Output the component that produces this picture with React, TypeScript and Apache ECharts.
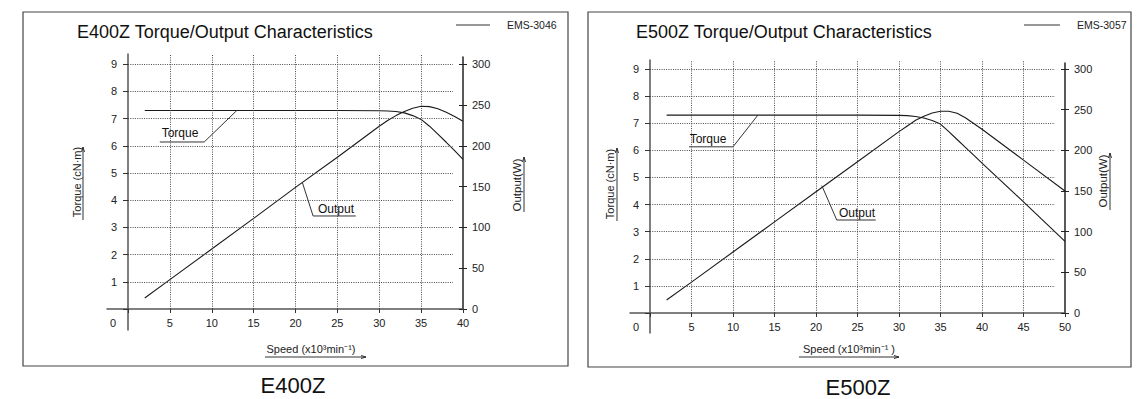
import React, { useEffect, useRef } from "react";
import * as echarts from "echarts";

// ---------------- data ----------------
const e400Speed = [2, 5, 10, 15, 20, 25, 30, 31, 32, 33, 34, 35, 36, 37, 38, 39, 40];
const e400Torque = [7.3, 7.3, 7.3, 7.3, 7.3, 7.3, 7.29, 7.28, 7.26, 7.21, 7.11, 6.97, 6.72, 6.43, 6.13, 5.82, 5.5];
const e400Output = [13.5, 36, 73.5, 111, 149, 186, 224, 231, 237, 242, 246, 248.5, 248, 245.5, 241, 236, 230];

const e500Speed = [2, 5, 10, 15, 20, 25, 30, 31, 32, 33, 34, 35, 36, 37, 38, 39, 40, 45, 50];
const e500Torque = [7.3, 7.3, 7.3, 7.3, 7.3, 7.3, 7.29, 7.28, 7.25, 7.19, 7.1, 6.97, 6.69, 6.4, 6.11, 5.82, 5.53, 4.1, 2.64];
const e500Output = [16, 38, 75, 112, 149, 186, 223, 230, 237, 242, 246, 248, 248, 245.5, 240, 233, 226, 188, 150];

// tick values
const torqueTicks = [1, 2, 3, 4, 5, 6, 7, 8, 9];
const e400GridSpeeds = [5, 10, 15, 20, 25, 30, 35];
const e500GridSpeeds = [5, 10, 15, 20, 25, 30, 35, 40, 45];

// annotation leader lines (speed, torque)
const e400TorqueLeader = [[3.8, 6.14], [9.1, 6.14], [13.0, 7.3]];
const e400OutputLeader = [[20.8, 4.67], [22.1, 3.42], [27.2, 3.42]];
const e500TorqueLeader = [[4.7, 6.13], [10.0, 6.13], [13.0, 7.3]];
const e500OutputLeader = [[20.7, 4.7], [22.5, 3.43], [27.2, 3.43]];

const FONT = '"Liberation Sans", Arial, Helvetica, sans-serif';
const INK = "#1a1a1a";

const specs = [
  {
    title: "E400Z Torque/Output Characteristics",
    legend: "EMS-3046",
    caption: "E400Z",
    speedName: "Speed (x10³min⁻¹)",
    speed: e400Speed,
    torque: e400Torque,
    output: e400Output,
    gridSpeeds: e400GridSpeeds,
    torqueLeader: e400TorqueLeader,
    outputLeader: e400OutputLeader,
    xMax: 40,
    box: [23, 12, 545, 354],
    originX: 128,
    originY: 309,
    pxX: 8.375,
    pxY: 27.2,
    axisLeftEnd: 107,
    axisBottomEnd: 330,
    axisTopEnd: 54,
    rightAxisTop: 57,
    hGridEnd: 38.8,
    titlePos: [77, 32],
    legendLine: [456, 490, 25],
    legendTextX: 507,
    zeroPos: [113, 323],
    torqueName: [77, 182],
    torqueArrow: [83, 220, 147],
    outputName: [517, 185],
    outputArrow: [524, 212, 157],
    speedNamePos: [311, 349],
    speedArrow: [265, 366, 357],
    torqueLabel: [180, 133],
    outputLabel: [336, 209],
    captionPos: [293, 385],
  },
  {
    title: "E500Z Torque/Output Characteristics",
    legend: "EMS-3057",
    caption: "E500Z",
    speedName: "Speed (x10³min⁻¹ )",
    speed: e500Speed,
    torque: e500Torque,
    output: e500Output,
    gridSpeeds: e500GridSpeeds,
    torqueLeader: e500TorqueLeader,
    outputLeader: e500OutputLeader,
    xMax: 50,
    box: [588, 12, 543, 355],
    originX: 650,
    originY: 313,
    pxX: 8.3,
    pxY: 27.11,
    axisLeftEnd: 630,
    axisBottomEnd: 333,
    axisTopEnd: 60,
    rightAxisTop: 63,
    hGridEnd: 48.8,
    titlePos: [636, 32],
    legendLine: [1024, 1060, 25],
    legendTextX: 1077,
    zeroPos: [636, 327],
    torqueName: [610, 184],
    torqueArrow: [617, 221, 148],
    outputName: [1103, 181],
    outputArrow: [1110, 210, 153],
    speedNamePos: [849, 349],
    speedArrow: [799, 899, 357],
    torqueLabel: [708, 139],
    outputLabel: [857, 213],
    captionPos: [858, 387],
  },
];

function zip(a: number[], b: number[]) {
  return a.map((v, i) => [v, b[i]]);
}

function buildOption() {
  const grids: any[] = [];
  const xAxes: any[] = [];
  const yAxes: any[] = [];
  const series: any[] = [];
  const graphics: any[] = [];

  const labelStyle = { fontSize: 11, color: "#222", fontFamily: FONT };

  specs.forEach((s) => {
    const gA = grids.length;
    const gridW = s.xMax * s.pxX;
    const gridH = 9 * s.pxY;
    grids.push({ left: s.originX, top: s.originY - gridH, width: gridW, height: gridH });
    grids.push({
      left: s.axisLeftEnd,
      top: s.axisTopEnd,
      width: s.originX + gridW - s.axisLeftEnd,
      height: s.axisBottomEnd - s.axisTopEnd,
    });
    grids.push({ left: s.originX, top: s.rightAxisTop, width: gridW, height: s.originY - s.rightAxisTop });

    const xA = xAxes.length;
    xAxes.push({
      gridIndex: gA,
      type: "value",
      min: 0,
      max: s.xMax,
      interval: 5,
      position: "bottom",
      axisLine: { show: false, onZero: false },
      axisTick: { show: true, length: 4, lineStyle: { color: "#333", width: 1 } },
      axisLabel: { ...labelStyle, margin: 8, formatter: (v: number) => (v === 0 ? "" : String(v)) },
      splitLine: { show: false },
    });
    const bMinX = -(s.originX - s.axisLeftEnd) / s.pxX;
    xAxes.push({
      gridIndex: gA + 1,
      type: "value",
      min: bMinX,
      max: s.xMax,
      axisLine: { show: true, onZero: true, lineStyle: { color: "#555", width: 1.5 } },
      axisTick: { show: false },
      axisLabel: { show: false },
      splitLine: { show: false },
    });
    xAxes.push({ gridIndex: gA + 2, type: "value", min: 0, max: 1, show: false, axisLine: { onZero: false } });

    const yA = yAxes.length;
    yAxes.push({
      gridIndex: gA,
      type: "value",
      min: 0,
      max: 9,
      interval: 1,
      position: "left",
      axisLine: { show: false, onZero: false },
      axisTick: { show: true, length: 5, lineStyle: { color: "#333", width: 1 } },
      axisLabel: { ...labelStyle, margin: 11, formatter: (v: number) => (v === 0 ? "" : String(v)) },
      splitLine: { show: false },
    });
    yAxes.push({
      gridIndex: gA,
      type: "value",
      min: 0,
      max: 300,
      interval: 50,
      position: "right",
      axisLine: { show: false, onZero: false },
      axisTick: { show: true, length: 4, lineStyle: { color: "#222", width: 1 } },
      axisLabel: { ...labelStyle, margin: 9 },
      splitLine: { show: false },
    });
    yAxes.push({
      gridIndex: gA,
      type: "value",
      min: 0,
      max: 300,
      interval: 50,
      position: "right",
      axisLine: { show: false, onZero: false },
      axisTick: { show: true, inside: true, length: 4, lineStyle: { color: "#222", width: 1 } },
      axisLabel: { show: false },
      splitLine: { show: false },
    });
    const bMinY = -(s.axisBottomEnd - s.originY) / s.pxY;
    const bMaxY = (s.originY - s.axisTopEnd) / s.pxY;
    yAxes.push({
      gridIndex: gA + 1,
      type: "value",
      min: bMinY,
      max: bMaxY,
      axisLine: { show: true, onZero: true, lineStyle: { color: "#555", width: 1.5 } },
      axisTick: { show: false },
      axisLabel: { show: false },
      splitLine: { show: false },
    });
    yAxes.push({
      gridIndex: gA + 2,
      type: "value",
      min: 0,
      max: 1,
      position: "right",
      axisLine: { show: true, onZero: false, lineStyle: { color: "#222", width: 1.5 } },
      axisTick: { show: false },
      axisLabel: { show: false },
      splitLine: { show: false },
    });

    const curveStyle = { color: INK, width: 1.1 };
    series.push({
      type: "line",
      name: s.legend,
      xAxisIndex: xA,
      yAxisIndex: yA,
      data: zip(s.speed, s.torque),
      symbol: "none",
      silent: true,
      lineStyle: curveStyle,
    });
    series.push({
      type: "line",
      name: s.legend,
      xAxisIndex: xA,
      yAxisIndex: yA + 1,
      data: zip(s.speed, s.output),
      symbol: "none",
      silent: true,
      lineStyle: curveStyle,
    });

    const vTop = bMaxY * 0.999;
    const gridLines: any[] = [];
    s.gridSpeeds.forEach((v) => gridLines.push([{ coord: [v, 0] }, { coord: [v, vTop] }]));
    torqueTicks.forEach((t) => gridLines.push([{ coord: [0, t] }, { coord: [s.hGridEnd, t] }]));
    series.push({
      type: "line",
      xAxisIndex: xA + 1,
      yAxisIndex: yA + 3,
      data: [],
      symbol: "none",
      silent: true,
      markLine: {
        silent: true,
        symbol: ["none", "none"],
        label: { show: false },
        lineStyle: { type: [1, 1.3], color: "#4a4a4a", width: 1 },
        data: gridLines,
      },
    });

    [s.torqueLeader, s.outputLeader].forEach((pts) =>
      series.push({
        type: "line",
        xAxisIndex: xA,
        yAxisIndex: yA,
        data: pts,
        symbol: "none",
        silent: true,
        lineStyle: { color: "#333", width: 1 },
      })
    );

    // ---------- graphics ----------
    const [bx, by, bw, bh] = s.box;
    graphics.push({
      type: "rect",
      shape: { x: bx, y: by, width: bw, height: bh },
      style: { fill: "none", stroke: "#444", lineWidth: 1.2 },
      silent: true,
    });
    graphics.push({
      type: "text",
      x: s.titlePos[0],
      y: s.titlePos[1],
      style: { text: s.title, fontSize: 18, fontFamily: FONT, fill: "#111", align: "left", verticalAlign: "middle" },
    });
    graphics.push({
      type: "line",
      shape: { x1: s.legendLine[0], y1: s.legendLine[2], x2: s.legendLine[1], y2: s.legendLine[2] },
      style: { stroke: "#333", lineWidth: 1 },
    });
    graphics.push({
      type: "text",
      x: s.legendTextX,
      y: s.legendLine[2],
      style: { text: s.legend, fontSize: 10.5, fontFamily: FONT, fill: "#222", align: "left", verticalAlign: "middle" },
    });
    graphics.push({
      type: "text",
      x: s.zeroPos[0],
      y: s.zeroPos[1],
      style: { text: "0", fontSize: 11, fontFamily: FONT, fill: "#222", align: "center", verticalAlign: "middle" },
    });
    // axis names
    graphics.push({
      type: "text",
      x: s.torqueName[0],
      y: s.torqueName[1],
      rotation: Math.PI / 2,
      style: { text: "Torque (cN·m)", fontSize: 11, fontFamily: FONT, fill: "#222", align: "center", verticalAlign: "middle" },
    });
    const [tax, tay1, tay2] = s.torqueArrow;
    graphics.push({ type: "line", shape: { x1: tax, y1: tay1, x2: tax, y2: tay2 }, style: { stroke: "#333", lineWidth: 1 } });
    graphics.push({
      type: "polyline",
      shape: { points: [[tax - 1.5, tay2 + 5], [tax, tay2], [tax + 1.5, tay2 + 5]] },
      style: { stroke: "#333", lineWidth: 1, fill: "none" },
    });
    graphics.push({
      type: "text",
      x: s.outputName[0],
      y: s.outputName[1],
      rotation: Math.PI / 2,
      style: { text: "Output(W)", fontSize: 11.5, fontFamily: FONT, fill: "#222", align: "center", verticalAlign: "middle" },
    });
    const [oax, oay1, oay2] = s.outputArrow;
    graphics.push({ type: "line", shape: { x1: oax, y1: oay1, x2: oax, y2: oay2 }, style: { stroke: "#333", lineWidth: 1 } });
    graphics.push({
      type: "polyline",
      shape: { points: [[oax - 1.5, oay2 + 5], [oax, oay2], [oax + 1.5, oay2 + 5]] },
      style: { stroke: "#333", lineWidth: 1, fill: "none" },
    });
    graphics.push({
      type: "text",
      x: s.speedNamePos[0],
      y: s.speedNamePos[1],
      style: { text: s.speedName, fontSize: 11, fontFamily: FONT, fill: "#222", align: "center", verticalAlign: "middle" },
    });
    const [sx1, sx2, sy] = s.speedArrow;
    graphics.push({ type: "line", shape: { x1: sx1, y1: sy, x2: sx2, y2: sy }, style: { stroke: "#333", lineWidth: 1 } });
    graphics.push({
      type: "polyline",
      shape: { points: [[sx2 - 5, sy - 1.5], [sx2, sy], [sx2 - 5, sy + 1.5]] },
      style: { stroke: "#333", lineWidth: 1, fill: "none" },
    });
    // curve labels
    graphics.push({
      type: "text",
      x: s.torqueLabel[0],
      y: s.torqueLabel[1],
      style: { text: "Torque", fontSize: 12, fontFamily: FONT, fill: "#111", align: "center", verticalAlign: "middle" },
    });
    graphics.push({
      type: "text",
      x: s.outputLabel[0],
      y: s.outputLabel[1],
      style: { text: "Output", fontSize: 12, fontFamily: FONT, fill: "#111", align: "center", verticalAlign: "middle" },
    });
    graphics.push({
      type: "text",
      x: s.captionPos[0],
      y: s.captionPos[1],
      style: { text: s.caption, fontSize: 22, fontFamily: FONT, fill: "#111", align: "center", verticalAlign: "middle" },
    });
  });

  return {
    animation: false,
    backgroundColor: "#ffffff",
    textStyle: { fontFamily: FONT },
    grid: grids,
    xAxis: xAxes,
    yAxis: yAxes,
    series,
    graphic: { elements: graphics },
  };
}

export default function App() {
  const ref = useRef<HTMLDivElement>(null);
  useEffect(() => {
    if (!ref.current) return;
    const chart = echarts.init(ref.current, undefined, { renderer: "svg" });
    chart.setOption(buildOption() as any);
    return () => chart.dispose();
  }, []);
  return (
    <div
      ref={ref}
      style={{ position: "fixed", left: 0, top: 0, width: 1138, height: 399, background: "#fff" }}
    />
  );
}
